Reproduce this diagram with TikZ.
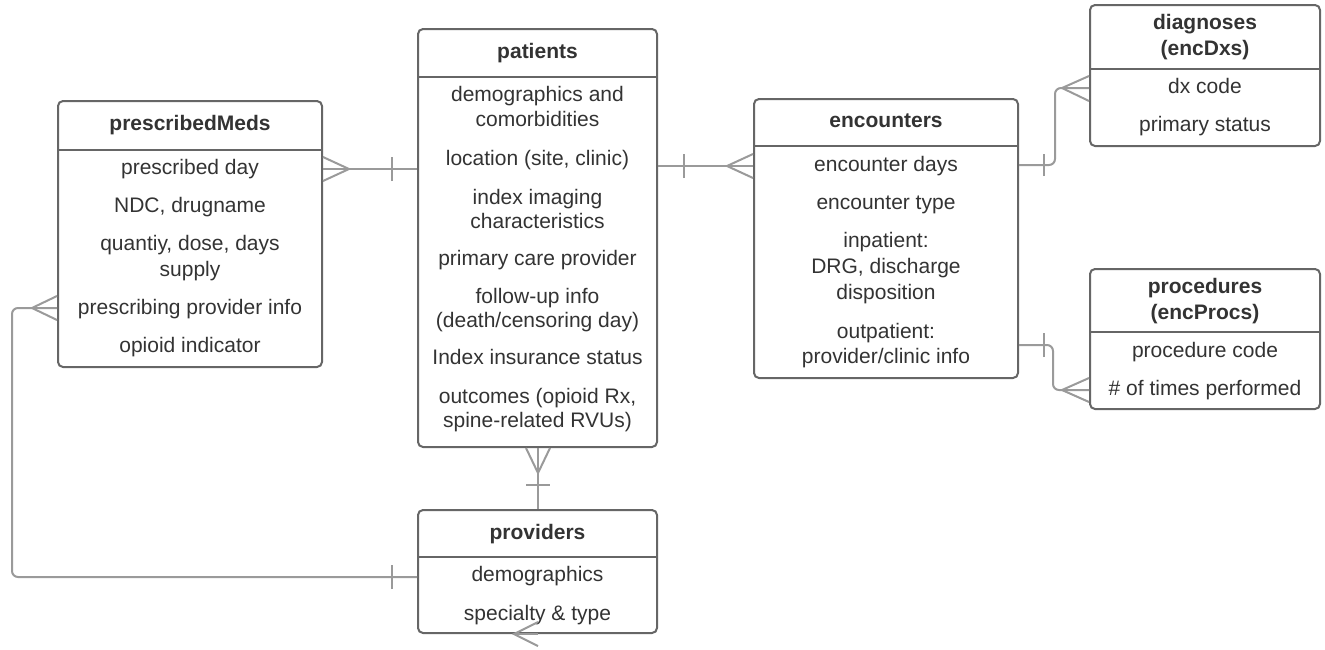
\documentclass[tikz,border=0pt]{standalone}
\usepackage{fontspec}
\setmainfont{Liberation Sans}
\definecolor{boxgray}{HTML}{666666}
\definecolor{conngray}{HTML}{9A9A9A}
\definecolor{txt}{HTML}{333333}
\begin{document}
\begin{tikzpicture}[x=1pt,y=-1pt,
  box/.style={draw=boxgray, line width=2pt, rounded corners=5pt, fill=white, inner sep=0pt},
  sep/.style={draw=boxgray, line width=2pt},
  conn/.style={draw=conngray, line width=2pt},
  lbl/.style={text=txt, font=\fontsize{21}{25}\selectfont, align=center, inner sep=0pt, text height=15pt, text depth=4pt, yshift=-2pt},
  ttl/.style={lbl, font=\fontsize{21}{25}\selectfont\bfseries}]
\useasboundingbox (0,0) rectangle (1325,649);

% boxes
\node[box, minimum width=264pt, minimum height=266pt] (pm) at (190,234) {};
\node[box, minimum width=239pt, minimum height=418pt] (pat) at (537.5,238) {};
\node[box, minimum width=264pt, minimum height=279pt] (enc) at (886,238.5) {};
\node[box, minimum width=230pt, minimum height=141pt] (dx) at (1205,75.5) {};
\node[box, minimum width=230pt, minimum height=140pt] (proc) at (1205,339) {};
\node[box, minimum width=239pt, minimum height=123pt] (prov) at (537.5,571.5) {};

% header separators
\draw[sep] (pm.west |- 0,150) -- (pm.east |- 0,150);
\draw[sep] (pat.west |- 0,77) -- (pat.east |- 0,77);
\draw[sep] (enc.west |- 0,146) -- (enc.east |- 0,146);
\draw[sep] (dx.west |- 0,69) -- (dx.east |- 0,69);
\draw[sep] (proc.west |- 0,332) -- (proc.east |- 0,332);
\draw[sep] (prov.west |- 0,557) -- (prov.east |- 0,557);

% prescribedMeds
\node[ttl] (pmT) at (190,123) {prescribedMeds};
\node[lbl] (pm1) at (190,167) {prescribed day};
\node[lbl] (pm2) at (190,205) {NDC, drugname};
\node[lbl] (pm3) at (190,243) {quantiy, dose, days};
\node[lbl] (pm3b) at (190,269) {supply};
\node[lbl] (pm4) at (190,307) {prescribing provider info};
\node[lbl] (pm5) at (190,345) {opioid indicator};

% patients
\node[ttl] (patT) at (537.5,51) {patients};
\node[lbl] (pa1) at (537.5,94) {demographics and};
\node[lbl] (pa1b) at (537.5,119) {comorbidities};
\node[lbl] (pa2) at (537.5,158) {location (site, clinic)};
\node[lbl] (pa3) at (537.5,197) {index imaging};
\node[lbl] (pa3b) at (537.5,221) {characteristics};
\node[lbl] (pa4) at (537.5,258) {primary care provider};
\node[lbl] (pa5) at (537.5,296) {follow-up info};
\node[lbl] (pa5b) at (537.5,320) {(death/censoring day)};
\node[lbl] (pa6) at (537.5,357) {Index insurance status};
\node[lbl] (pa7) at (537.5,396) {outcomes (opioid Rx,};
\node[lbl] (pa7b) at (537.5,420) {spine-related RVUs)};

% encounters
\node[ttl] (encT) at (886,120) {encounters};
\node[lbl] (en1) at (886,164) {encounter days};
\node[lbl] (en2) at (886,202) {encounter type};
\node[lbl] (en3) at (886,240) {inpatient:};
\node[lbl] (en3b) at (886,266) {DRG, discharge};
\node[lbl] (en3c) at (886,292) {disposition};
\node[lbl] (en4) at (886,331) {outpatient:};
\node[lbl] (en4b) at (886,356) {provider/clinic info};

% diagnoses
\node[ttl] (dxT) at (1205,22) {diagnoses};
\node[ttl] (dxT2) at (1205,48) {(encDxs)};
\node[lbl] (dx1) at (1205,86) {dx code};
\node[lbl] (dx2) at (1205,124) {primary status};

% procedures
\node[ttl] (prT) at (1205,286) {procedures};
\node[ttl] (prT2) at (1205,312) {(encProcs)};
\node[lbl] (pr1) at (1205,350) {procedure code};
\node[lbl] (pr2) at (1205,388) {\# of times performed};

% providers
\node[ttl] (pvT) at (537.5,532) {providers};
\node[lbl] (pv1) at (537.5,574) {demographics};
\node[lbl] (pv2) at (537.5,613) {specialty \& type};

% connectors
% prescribedMeds -- patients
\coordinate (c1a) at (pm.east |- 0,169);
\coordinate (c1b) at (pat.west |- 0,169);
\draw[conn] (c1a) -- (c1b);
\draw[conn] ([yshift=-12pt]c1a) -- ([xshift=26pt]c1a) -- ([yshift=12pt]c1a);
\draw[conn] ([xshift=-25pt,yshift=-12pt]c1b) -- ([xshift=-25pt,yshift=12pt]c1b);

% patients -- encounters
\coordinate (c2a) at (pat.east |- 0,166);
\coordinate (c2b) at (enc.west |- 0,166);
\draw[conn] (c2a) -- (c2b);
\draw[conn] ([xshift=26pt,yshift=-12pt]c2a) -- ([xshift=26pt,yshift=12pt]c2a);
\draw[conn] ([yshift=-12pt]c2b) -- ([xshift=-26pt]c2b) -- ([yshift=12pt]c2b);

% encounters -- diagnoses
\coordinate (c3a) at (enc.east |- 0,165);
\coordinate (c3b) at (dx.west |- 0,88);
\draw[conn, rounded corners=6pt] (c3a) -- (1055,165) -- (1055,88) -- (c3b);
\draw[conn] ([xshift=25pt,yshift=-11pt]c3a) -- ([xshift=25pt,yshift=11pt]c3a);
\draw[conn] ([yshift=-13pt]c3b) -- ([xshift=-27pt]c3b) -- ([yshift=12pt]c3b);

% encounters -- procedures
\coordinate (c4a) at (enc.east |- 0,345);
\coordinate (c4b) at (proc.west |- 0,390);
\draw[conn, rounded corners=6pt] (c4a) -- (1053,345) -- (1053,390) -- (c4b);
\draw[conn] ([xshift=25pt,yshift=-12pt]c4a) -- ([xshift=25pt,yshift=12pt]c4a);
\draw[conn] ([yshift=-12pt]c4b) -- ([xshift=-27pt]c4b) -- ([yshift=12pt]c4b);

% patients -- providers
\coordinate (c5a) at (pat.south -| 538,0);
\coordinate (c5b) at (prov.north -| 538,0);
\draw[conn] (c5a) -- (c5b);
\draw[conn] ([xshift=-12pt]c5a) -- ([yshift=-25pt]c5a) -- ([xshift=12pt]c5a);
\draw[conn] ([xshift=-12pt,yshift=-37pt]c5a) -- ([xshift=12pt,yshift=-37pt]c5a);

% prescribedMeds -- providers
\coordinate (c6a) at (pm.west |- 0,308);
\coordinate (c6b) at (prov.west |- 0,577);
\draw[conn, rounded corners=6pt] (c6a) -- (12,308) -- (12,577) -- (c6b);
\draw[conn] ([yshift=-12pt]c6a) -- ([xshift=-25pt]c6a) -- ([yshift=12pt]c6a);
\draw[conn] ([xshift=-25pt,yshift=-12pt]c6b) -- ([xshift=-25pt,yshift=12pt]c6b);

% stray crow's foot below providers
\coordinate (c7) at (prov.south -| 514,0);
\draw[conn] (538,622) -- (c7) -- (538,646);
\draw[conn] (c7) -- (538,634);
\end{tikzpicture}
\end{document}
